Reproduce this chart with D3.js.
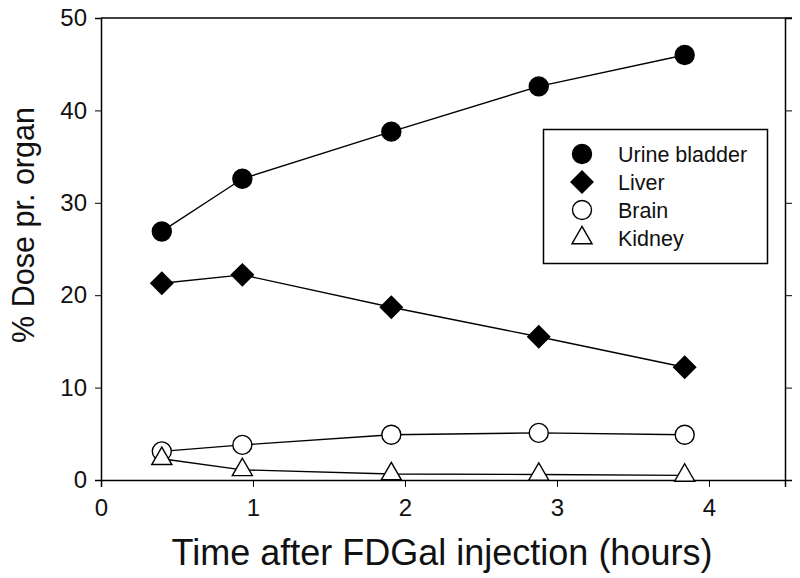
<!DOCTYPE html>
<html>
<head>
<meta charset="utf-8">
<script src="https://cdn.jsdelivr.net/npm/d3@7"></script>
<style>
  body { margin: 0; background: #fff; }
  svg { display: block; }
  text { font-family: "Liberation Sans", Arial, sans-serif; fill: #111; }
</style>
</head>
<body>
<div id="main"></div>
<script>
// hours after injection
var times = [0.4, 0.93, 1.91, 2.88, 3.84];

var urineBladder = [26.9, 32.6, 37.7, 42.6, 46.0];
var liver = [21.3, 22.2, 18.7, 15.5, 12.2];
var brain = [3.1, 3.8, 4.9, 5.1, 4.9];
var kidney = [2.3, 1.1, 0.65, 0.6, 0.5];

var seriesNames = ['Urine bladder', 'Liver', 'Brain', 'Kidney'];
var xTicks = [0, 1, 2, 3, 4];
var yTicks = [0, 10, 20, 30, 40, 50];

function Sketch() {
  this.width = 800;
  this.height = 578;
  this.margin = {left: 101, right: 15, top: 18, bottom: 98};
}

Sketch.prototype.init = function() {
  this.svg = d3.select('#main')
    .append('svg')
    .attr('width', this.width)
    .attr('height', this.height);

  this.x = d3.scaleLinear()
    .domain([0, 4.5])
    .range([this.margin.left, this.width - this.margin.right]);

  this.y = d3.scaleLinear()
    .domain([0, 50])
    .range([this.height - this.margin.bottom, this.margin.top]);
};

Sketch.prototype.update = function() {
  var vals = [urineBladder, liver, brain, kidney];
  var shapes = ['fcircle', 'diamond', 'ocircle', 'triangle'];
  this.data = seriesNames.map(function(name, k) {
    return {
      name: name,
      shape: shapes[k],
      points: times.map(function(t, i) { return {x: t, y: vals[k][i]}; })
    };
  });
};

function drawMarker(sel, shape) {
  var p;
  if (shape === 'fcircle' || shape === 'ocircle') {
    p = sel.append('circle').attr('r', 9.5);
  } else if (shape === 'diamond') {
    p = sel.append('path')
      .attr('d', d3.symbol().type(d3.symbolSquare).size(242)())
      .attr('transform', 'rotate(45)');
  } else {
    p = sel.append('path')
      .attr('d', d3.symbol().type(d3.symbolTriangle).size(175)());
  }
  var filled = (shape === 'fcircle' || shape === 'diamond');
  p.attr('fill', filled ? '#000' : '#fff')
    .attr('stroke', '#000')
    .attr('stroke-width', 1.4);
}

Sketch.prototype.render = function() {
  var x = this.x, y = this.y;
  var x0 = x.range()[0], x1 = x.range()[1];
  var y0 = y.range()[0], y1 = y.range()[1];

  // axes
  this.svg.append('g')
    .attr('transform', 'translate(0,' + y0 + ')')
    .call(d3.axisBottom(x).tickValues(xTicks).tickFormat(d3.format('d'))
      .tickSizeOuter(0).tickSize(7).tickPadding(12))
    .call(function(g) {
      g.select('.domain').attr('stroke-width', 1.5);
      g.selectAll('.tick text').attr('font-size', 24).attr('fill', '#111');
    });

  this.svg.append('g')
    .attr('transform', 'translate(' + x0 + ',0)')
    .call(d3.axisLeft(y).tickValues(yTicks).tickSizeOuter(0).tickSize(6).tickPadding(8))
    .call(function(g) {
      g.select('.domain').attr('stroke-width', 1.5);
      g.selectAll('.tick text').attr('font-size', 24).attr('fill', '#111');
    });

  this.svg.append('g')
    .attr('transform', 'translate(' + x1 + ',0)')
    .call(d3.axisRight(y).tickValues(yTicks).tickSizeOuter(0).tickSize(7).tickFormat(''))
    .call(function(g) { g.select('.domain').attr('stroke-width', 1.5); });

  this.svg.append('line')
    .attr('x1', x0).attr('x2', x1 + 7)
    .attr('y1', y1).attr('y2', y1)
    .attr('stroke', '#000')
    .attr('stroke-width', 1.5);

  // axis titles
  this.svg.append('text')
    .attr('x', 442)
    .attr('y', 565)
    .attr('text-anchor', 'middle')
    .attr('font-size', 36)
    .text('Time after FDGal injection (hours)');

  this.svg.append('text')
    .attr('transform', 'translate(34,225) rotate(-90)')
    .attr('text-anchor', 'middle')
    .attr('font-size', 32)
    .attr('textLength', 236)
    .attr('lengthAdjust', 'spacingAndGlyphs')
    .text('% Dose pr. organ');

  // lines
  var line = d3.line()
    .x(function(d) { return x(d.x); })
    .y(function(d) { return y(d.y); });

  var g = this.svg.append('g').attr('class', 'plot');

  g.selectAll('path.series')
    .data(this.data)
    .enter()
    .append('path')
    .attr('class', 'series')
    .attr('d', function(d) { return line(d.points); })
    .attr('fill', 'none')
    .attr('stroke', '#000')
    .attr('stroke-width', 1.4);

  this.data.forEach(function(s) {
    g.selectAll(null)
      .data(s.points)
      .enter()
      .append('g')
      .attr('transform', function(d) { return 'translate(' + x(d.x) + ',' + y(d.y) + ')'; })
      .each(function() { drawMarker(d3.select(this), s.shape); });
  });

  // legend
  var leg = this.svg.append('g').attr('class', 'legend');
  leg.append('rect')
    .attr('x', 543.5).attr('y', 129.5)
    .attr('width', 224).attr('height', 134)
    .attr('fill', '#fff')
    .attr('stroke', '#000')
    .attr('stroke-width', 1.5);

  var items = leg.selectAll('g.item')
    .data(this.data)
    .enter()
    .append('g')
    .attr('class', 'item')
    .attr('transform', function(d, i) { return 'translate(582,' + (154 + i * 28) + ')'; });

  items.each(function(d) { drawMarker(d3.select(this), d.shape); });

  items.append('text')
    .attr('x', 36)
    .attr('dy', '0.35em')
    .attr('font-size', 21.5)
    .text(function(d) { return d.name; });
};

document.addEventListener('DOMContentLoaded', function() {
  var s = new Sketch();
  s.init();
  s.update();
  s.render();
});
</script>
</body>
</html>
